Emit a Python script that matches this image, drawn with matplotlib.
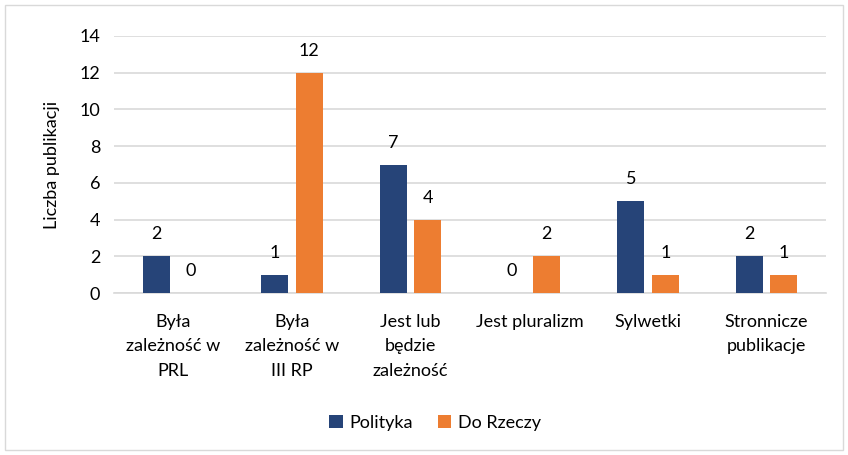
import matplotlib
matplotlib.use("Agg")
import matplotlib.pyplot as plt
import numpy as np
from matplotlib.patches import Rectangle

categories = ["Była\nzależność w\nPRL", "Była\nzależność w\nIII RP", "Jest lub\nbędzie\nzależność",
              "Jest pluralizm", "Sylwetki", "Stronnicze\npublikacje"]
polityka = [2, 1, 7, 0, 5, 2]
do_rzeczy = [0, 12, 4, 2, 1, 1]
series_names = ["Polityka", "Do Rzeczy"]
colors = ["#264478", "#ED7D31"]

plt.rcParams['font.family'] = ['Lato', 'DejaVu Sans']
FS = 13

fig = plt.figure(figsize=(8.48, 4.55), dpi=100)
ax = fig.add_axes([114/848, 1-293/455, (826-114)/848, (293-36)/455])

x = np.arange(len(categories))
w = 0.228
off = 0.145
b1 = ax.bar(x - off, polityka, w, color=colors[0], label=series_names[0], zorder=3)
b2 = ax.bar(x + off, do_rzeczy, w, color=colors[1], label=series_names[1], zorder=3)

for bars, vals in ((b1, polityka), (b2, do_rzeczy)):
    for r, v in zip(bars, vals):
        ax.annotate(str(v), (r.get_x() + r.get_width()/2, v), xytext=(0, 10),
                    textcoords="offset points", ha="center", va="bottom", fontsize=FS, color="#000000")

ax.set_xlim(-0.5, len(categories) - 0.5)
ax.set_ylim(0, 14)
ax.set_yticks(range(0, 15, 2))
ax.yaxis.grid(True, color="#D9D9D9", linewidth=1.2, zorder=0)
ax.set_axisbelow(True)
for s in ["top", "right", "left"]:
    ax.spines[s].set_visible(False)
ax.spines["bottom"].set_color("#D9D9D9")
ax.spines["bottom"].set_linewidth(1.2)
ax.tick_params(axis="both", length=0, labelsize=FS, colors="#000000")
ax.tick_params(axis="y", pad=10)
ax.tick_params(axis="x", pad=15)
ax.set_xticks(x)
ax.set_xticklabels(categories, linespacing=1.65)
ax.set_ylabel("Liczba publikacji", fontsize=FS, labelpad=14)

fig.legend(handles=[b1, b2], labels=series_names, loc="center", bbox_to_anchor=(435/848, 1-423/455),
           ncol=2, frameon=False, fontsize=FS, handlelength=0.75, handleheight=0.75,
           handletextpad=0.35, columnspacing=1.4)

fig.patches.append(Rectangle((5/848, 5/455), 838/848, 445/455, transform=fig.transFigure,
                             fill=False, edgecolor="#D9D9D9", linewidth=1))

fig.savefig("out.png", dpi=100)
